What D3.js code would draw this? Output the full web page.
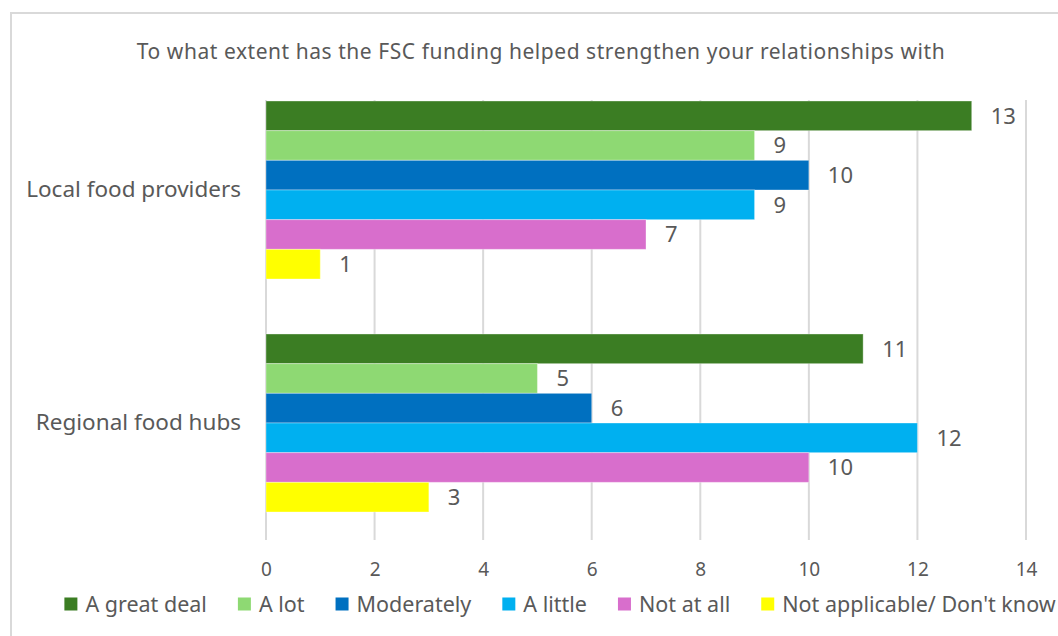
<!DOCTYPE html>
<html>
<head>
<meta charset="utf-8">
<script src="https://cdn.jsdelivr.net/npm/d3@7"></script>
<style>
  html, body { margin: 0; padding: 0; background: #fff; }
  svg { display: block; }
  text { font-family: "Noto Sans", "Open Sans", sans-serif; fill: #595959; }
</style>
</head>
<body>
<svg id="chart" width="1058" height="636"></svg>
<script>
// Survey responses per category
const categories = ["Local food providers", "Regional food hubs"];
const seriesNames = ["A great deal", "A lot", "Moderately", "A little", "Not at all", "Not applicable/ Don't know"];
const localValues = [13, 9, 10, 9, 7, 1];
const regionalValues = [11, 5, 6, 12, 10, 3];
const xTicks = [0, 2, 4, 6, 8, 10, 12, 14];
const colors = ["#3B7D23", "#8ED973", "#0070C0", "#00B0F0", "#D86ECC", "#FFFF00"];
const title = "To what extent has the FSC funding helped strengthen your relationships with";

const valuesByCategory = [localValues, regionalValues];

const svg = d3.select("#chart");

// Chart frame
svg.append("path")
  .attr("d", "M11,640 L11,13 L1062,13")
  .attr("fill", "none")
  .attr("stroke", "#d9d9d9")
  .attr("stroke-width", 2);

// Title
svg.append("text")
  .attr("x", 541)
  .attr("y", 59)
  .attr("text-anchor", "middle")
  .style("font-size", "21px")
  .style("letter-spacing", "0.55px")
  .text(title);

// Scales
const x = d3.scaleLinear().domain([0, 14]).range([266, 1026]);
const y = d3.scaleBand().domain(categories).range([73.5, 539.5])
  .paddingInner(0.236).paddingOuter(0.118);
const ySeries = d3.scaleBand().domain(seriesNames).range([0, y.bandwidth()]);

const gridTop = 100, gridBottom = 540;

// Vertical gridlines
svg.append("g").selectAll("line")
  .data(xTicks)
  .join("line")
  .attr("x1", d => x(d)).attr("x2", d => x(d))
  .attr("y1", gridTop).attr("y2", gridBottom)
  .attr("stroke", "#d9d9d9")
  .attr("stroke-width", 2);

// X axis tick labels
const xAxis = d3.axisBottom(x).tickValues(xTicks).tickSize(0).tickPadding(0);
const gx = svg.append("g").attr("transform", `translate(0,${gridBottom + 22})`).call(xAxis);
gx.select(".domain").remove();
gx.selectAll("text")
  .style("font-size", "19px")
  .style("font-family", "\"Noto Sans\", sans-serif")
  .attr("fill", "#595959");

// Category labels
const yAxis = d3.axisLeft(y).tickSize(0).tickPadding(0);
const gy = svg.append("g").attr("transform", "translate(241,0)").call(yAxis);
gy.select(".domain").remove();
gy.selectAll("text")
  .style("font-size", "22.5px")
  .style("font-family", "\"Noto Sans\", sans-serif")
  .attr("fill", "#595959");

// Bars
const rows = [];
categories.forEach((c, ci) => {
  seriesNames.forEach((s, si) => {
    rows.push({ category: c, series: s, value: valuesByCategory[ci][si], color: colors[si] });
  });
});

const groups = svg.append("g");
groups.selectAll("rect")
  .data(rows)
  .join("rect")
  .attr("x", x(0))
  .attr("y", d => y(d.category) + ySeries(d.series))
  .attr("width", d => x(d.value) - x(0))
  .attr("height", ySeries.bandwidth())
  .attr("fill", d => d.color)
  .attr("stroke", "#ffffff")
  .attr("stroke-opacity", 0.35)
  .attr("stroke-width", 1);

// Value labels
groups.selectAll("text")
  .data(rows)
  .join("text")
  .attr("x", d => x(d.value) + 19)
  .attr("y", d => y(d.category) + ySeries(d.series) + ySeries.bandwidth() / 2)
  .attr("dy", "0.36em")
  .style("font-size", "22px")
  .text(d => d.value);

// Legend, centred under the plot
const legend = svg.append("g").attr("transform", "translate(0,604)");
const marker = 13, markerGap = 8, itemGap = 31;
const items = legend.selectAll("g")
  .data(seriesNames.map((s, i) => ({ name: s, color: colors[i] })))
  .join("g");
items.append("rect")
  .attr("width", marker).attr("height", marker)
  .attr("y", -marker / 2)
  .attr("fill", d => d.color);
items.append("text")
  .attr("x", marker + markerGap)
  .attr("dy", "0.35em")
  .style("font-size", "21.5px")
  .text(d => d.name);
const widths = [];
items.each(function () {
  widths.push(marker + markerGap + this.querySelector("text").getComputedTextLength());
});
const total = d3.sum(widths) + itemGap * (widths.length - 1);
let offset = 560 - total / 2;
items.attr("transform", (d, i) => {
  const t = `translate(${offset},0)`;
  offset += widths[i] + itemGap;
  return t;
});
</script>
</body>
</html>
